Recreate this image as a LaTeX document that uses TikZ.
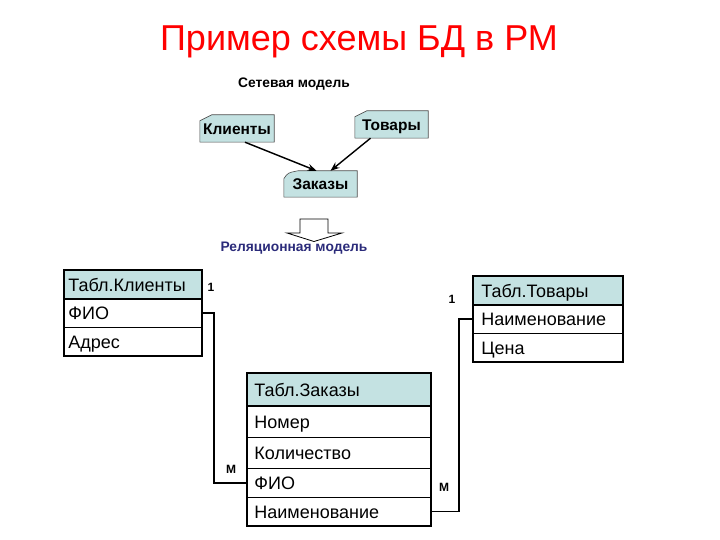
\documentclass[tikz,border=0pt]{standalone}
\usepackage{fontspec}
\setmainfont{Liberation Sans}
\usetikzlibrary{arrows.meta,backgrounds}
\definecolor{hdr}{HTML}{C4E2E2}
\definecolor{titlered}{HTML}{FF0000}
\definecolor{navy}{HTML}{2B2B7A}
\tikzset{
  rowbox/.style n args={3}{draw=black,line width=0.8pt,minimum height=#1,minimum width=#2,inner ysep=0pt,inner xsep=#3,text width=#2-2*#3,anchor=north west,text height=14.5pt,text depth=1pt,font=\fontsize{18}{20}\selectfont,align=left},
  netlbl/.style={inner sep=0pt,font=\bfseries\fontsize{15.5}{17}\selectfont},
  netfill/.style={fill=hdr,draw=black!70,line width=0.6pt},
  relarrow/.style={-{Stealth[length=9pt,width=7pt]},line width=1.4pt},
  conn/.style={line width=1.8pt,line join=miter},
  card/.style={font=\bfseries\fontsize{12}{14}\selectfont,inner sep=0pt},
  outer/.style={draw=black,line width=1.8pt}
}
\begin{document}
\begin{tikzpicture}[x=1pt,y=-1pt]
\useasboundingbox (0,0) rectangle (720,540);
% title
\node[text=titlered,font=\fontsize{36}{40}\selectfont] (title) at (359,42) {Пример схемы БД в РМ};
\node[font=\bfseries\fontsize{13.8}{16}\selectfont] (net) at (294,84) {Сетевая модель};
% network nodes
\node[netlbl,minimum width=74pt,minimum height=27pt,text height=13pt,text depth=1pt] (kl) at (237,128.5) {Клиенты};
\node[netlbl,minimum width=73pt,minimum height=27pt,text height=13pt,text depth=1pt] (tv) at (391.5,124.5) {Товары};
\node[netlbl,minimum width=73pt,minimum height=26pt,text height=13pt,text depth=1pt] (za) at (320.5,184) {Заказы};
\begin{scope}[on background layer]
\path[netfill] (kl.south west) -- (kl.south east) -- (kl.north east) -- ([xshift=12pt]kl.north west) -- ([yshift=-6pt]kl.north west) -- cycle;
\path[netfill] (tv.south west) -- (tv.south east) -- (tv.north east) -- ([xshift=12pt]tv.north west) -- ([yshift=-6pt]tv.north west) -- cycle;
\path[netfill] (za.south west) -- (za.south east) -- (za.north east) -- ([xshift=14pt]za.north west) .. controls ([xshift=4pt,yshift=-2pt]za.north west) .. ([yshift=-8pt]za.north west) -- cycle;
\end{scope}
\draw[relarrow] ([xshift=8pt]kl.south) -- ([xshift=-4pt]za.north);
\draw[relarrow] ([xshift=-21pt]tv.south) -- ([xshift=10pt]za.north);
% hollow arrow
\draw[fill=white,line width=0.8pt] (300,219) -- (328,219) -- (328,233) -- (342,233) -- (314,241.5) -- (287,233) -- (300,233) -- cycle;
\node[text=navy,font=\bfseries\fontsize{13.8}{16}\selectfont] (rel) at (294,248) {Реляционная модель};
% Table Klienty
\node[rowbox={28pt}{137pt}{4pt},fill=hdr] (kh) at (64,270) {Табл.Клиенты};
\node[rowbox={29pt}{137pt}{4pt}] (kf) at (64,298) {ФИО};
\node[rowbox={28pt}{137pt}{4pt}] (ka) at (64,327) {Адрес};
\draw[outer] (kh.north west) rectangle (ka.south east);
\draw[line width=1.6pt] (kh.south west) -- (kh.south east);
% Table Tovary
\node[rowbox={28pt}{149pt}{8pt},fill=hdr] (th) at (473,276) {Табл.Товары};
\node[rowbox={29pt}{149pt}{8pt}] (tn) at (473,304) {Наименование};
\node[rowbox={28pt}{149pt}{8pt}] (tc) at (473,333) {Цена};
\draw[outer] (th.north west) rectangle (tc.south east);
\draw[line width=1.6pt] (th.south west) -- (th.south east);
% Table Zakazy
\node[rowbox={32pt}{183pt}{7pt},fill=hdr] (zh) at (247,373) {Табл.Заказы};
\node[rowbox={32pt}{183pt}{7pt}] (zn) at (247,405) {Номер};
\node[rowbox={31pt}{183pt}{7pt}] (zk) at (247,437) {Количество};
\node[rowbox={29pt}{183pt}{7pt}] (zf) at (247,468) {ФИО};
\node[rowbox={28pt}{183pt}{7pt}] (zm) at (247,497) {Наименование};
\draw[outer] (zh.north west) rectangle (zm.south east);
\draw[line width=1.6pt] (zh.south west) -- (zh.south east);
% connectors
\draw[conn] (kf.east) -- ++(12,0) |- (zf.west);
\draw[conn] (tn.west) -- ++(-14,0) |- (zm.east);
% cardinalities
\node[card] (c1) at (211,287) {1};
\node[card] (c2) at (452,299) {1};
\node[card] (c3) at (231,469) {М};
\node[card] (c4) at (444,487) {М};
\end{tikzpicture}
\end{document}
